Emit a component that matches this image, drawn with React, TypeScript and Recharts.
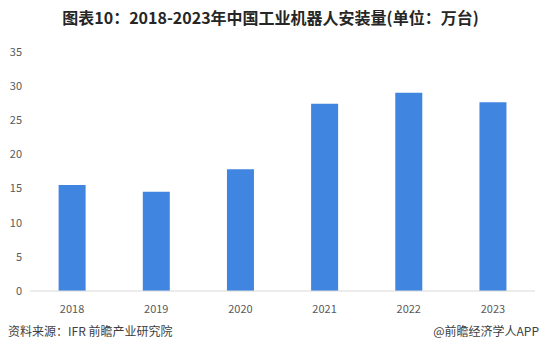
import { BarChart, Bar, XAxis, YAxis } from 'recharts'

// 中国工业机器人安装量（万台），读自原图
const years = ['2018', '2019', '2020', '2021', '2022', '2023']
const installs = [15.5, 14.5, 17.8, 27.4, 29.0, 27.6]
const yTicks = [0, 5, 10, 15, 20, 25, 30, 35]

const data = years.map((year, i) => ({ year, installs: installs[i] }))

const font = '"Noto Sans CJK SC", "Noto Sans", sans-serif'

export default function App() {
  return (
    <div
      style={{
        position: 'absolute',
        left: 0,
        top: 0,
        width: 541,
        height: 359,
        background: '#fff',
        fontFamily: font,
      }}
    >
      <div
        style={{
          position: 'absolute',
          top: 5,
          left: 0,
          width: 541,
          textAlign: 'center',
          fontSize: 16,
          fontWeight: 'bold',
          color: '#262626',
          lineHeight: '24px',
        }}
      >
        图表10：2018-2023年中国工业机器人安装量(单位：万台)
      </div>
      <div style={{ position: 'absolute', top: 0, left: 0 }}>
        <BarChart
          width={541}
          height={322}
          data={data}
          margin={{ top: 51.7, right: 6, left: 0, bottom: 0 }}
          barCategoryGap="34%"
        >
          <XAxis
            dataKey="year"
            axisLine={{ stroke: '#d9d9d9' }}
            tickLine={false}
            tick={{ fill: '#595959', fontSize: 11, fontFamily: font }}
            tickMargin={8}
            height={31}
          />
          <YAxis
            domain={[0, 35]}
            ticks={yTicks}
            axisLine={false}
            tickLine={false}
            tickSize={0}
            tickMargin={8}
            width={30}
            tick={{ fill: '#595959', fontSize: 11, fontFamily: font }}
          />
          <Bar dataKey="installs" fill="#4085E0" isAnimationActive={false} />
        </BarChart>
      </div>
      <div
        style={{
          position: 'absolute',
          top: 322,
          left: 8,
          fontSize: 12,
          color: '#404040',
          lineHeight: '18px',
        }}
      >
        资料来源：IFR 前瞻产业研究院
      </div>
      <div
        style={{
          position: 'absolute',
          top: 322,
          right: 2,
          fontSize: 12,
          color: '#404040',
          lineHeight: '18px',
        }}
      >
        @前瞻经济学人APP
      </div>
    </div>
  )
}
